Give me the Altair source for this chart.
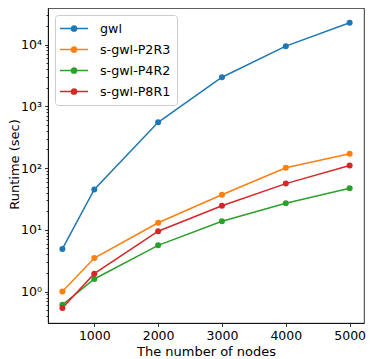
import altair as alt
import pandas as pd

nodes = [500, 1000, 2000, 3000, 4000, 5000]
series_names = ["gwl", "s-gwl-P2R3", "s-gwl-P4R2", "s-gwl-P8R1"]
gwl = [4.9, 45, 550, 2950, 9400, 22500]
p2r3 = [1.0, 3.5, 13, 37, 101, 170]
p4r2 = [0.61, 1.6, 5.6, 13.8, 27, 47]
p8r1 = [0.54, 1.95, 9.5, 24.5, 56, 110]
colors = ["#1f77b4", "#ff7f0e", "#2ca02c", "#d62728"]

major_ticks = [1, 10, 100, 1000, 10000]
minor_ticks = [m * 10 ** e for e in range(-1, 5) for m in range(2, 10)
               if 0.31 <= m * 10 ** e <= 39000]

rows = []
for name, vals in zip(series_names, [gwl, p2r3, p4r2, p8r1]):
    for n, v in zip(nodes, vals):
        rows.append({"nodes": n, "runtime": v, "series": name})
df = pd.DataFrame(rows)

FONT = "DejaVu Sans"
xscale = alt.Scale(domain=[275, 5225], nice=False, zero=False)
yscale = alt.Scale(type="log", domain=[0.31, 39000], nice=False)
cscale = alt.Scale(domain=series_names, range=colors)

# legend symbol: line with a dot (rings to fill the dot)
def circ(cx, r):
    return f"M{cx - r},0A{r},{r} 0 1,0 {cx + r},0A{r},{r} 0 1,0 {cx - r},0"
sym = "M-1.31,0L3.0,0" + circ(0.846, 0.40) + circ(0.846, 0.23) + circ(0.846, 0.08)

lines = alt.Chart(df).mark_line(strokeWidth=1.5).encode(
    x=alt.X("nodes:Q", scale=xscale,
            axis=alt.Axis(values=[1000, 2000, 3000, 4000, 5000], format="d",
                          title="The number of nodes", grid=False,
                          tickSize=3.5, labelPadding=3, titlePadding=3)),
    y=alt.Y("runtime:Q", scale=yscale,
            axis=alt.Axis(values=major_ticks, orient="left", grid=False,
                          labelExpr="'10' + ['⁰','¹','²','³','⁴'][round(log(datum.value)/LN10)]",
                          tickSize=3.5, labelPadding=3,
                          title="Runtime (sec)", titleX=-34, titleY=156,
                          titleAlign="center", titleBaseline="middle", titleAngle=-90)),
    color=alt.Color("series:N", scale=cscale,
                    legend=alt.Legend(title=None, orient="none", legendX=7, legendY=7,
                                      symbolType=sym, symbolSize=169, symbolStrokeWidth=1.5,
                                      labelOffset=24, padding=6, rowPadding=6,
                                      labelFontSize=12.7, labelFont=FONT, labelColor="black",
                                      strokeColor="#cccccc", cornerRadius=3,
                                      fillColor="rgba(255,255,255,0.8)")),
    detail="series:N",
)

points = alt.Chart(df).mark_point(filled=True, size=36, opacity=1).encode(
    x=alt.X("nodes:Q", scale=xscale),
    y=alt.Y("runtime:Q", scale=yscale,
            axis=alt.Axis(values=minor_ticks, orient="left", labels=False, domain=False,
                          grid=False, tickSize=2, title=None)),
    color=alt.Color("series:N", scale=cscale, legend=None),
)

chart = alt.layer(lines, points).resolve_axis(y="independent").properties(
    width=316, height=315,
    autosize=alt.AutoSizeParams(type="none"),
    padding={"left": 40, "top": 0, "right": 2, "bottom": 36},
).configure_axis(
    labelFont=FONT, titleFont=FONT, labelFontSize=12.5, titleFontSize=13,
    labelColor="black", titleColor="black", tickColor="black", domainColor="black",
    titleFontWeight="normal", domainWidth=0.8, tickWidth=0.8,
).configure_view(stroke="black", strokeWidth=0.8)

chart.save("out.html", embed_options={"renderer": "svg", "actions": False})
